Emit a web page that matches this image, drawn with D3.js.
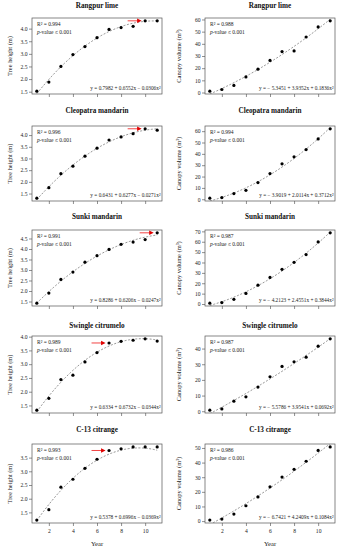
<!DOCTYPE html>
<html><head><meta charset="utf-8">
<script src="https://cdn.jsdelivr.net/npm/d3@7/dist/d3.min.js"></script>
<style>
html,body{margin:0;padding:0;background:#fff;}
svg{display:block;font-family:"Liberation Serif","Times New Roman",serif;}
</style></head><body>
<svg id="chart" width="341" height="550"></svg>
<script>
// ---------- data ----------
const years = [1, 2, 3, 4, 5, 6, 7, 8, 9, 10, 11];
const cultivars = ["Rangpur lime", "Cleopatra mandarin", "Sunki mandarin", "Swingle citrumelo", "C-13 citrange"];

const heightRangpur   = [1.52, 1.88, 2.50, 2.97, 3.29, 3.64, 3.97, 4.04, 4.09, 4.31, 4.31];
const heightCleopatra = [1.30, 1.75, 2.35, 2.67, 3.10, 3.44, 3.79, 3.92, 4.06, 4.27, 4.21];
const heightSunki     = [1.42, 1.90, 2.55, 2.90, 3.37, 3.68, 3.98, 4.22, 4.33, 4.45, 4.77];
const heightSwingle   = [1.33, 1.76, 2.44, 2.60, 3.08, 3.42, 3.77, 3.83, 3.87, 3.92, 3.84];
const heightC13       = [1.22, 1.60, 2.42, 2.71, 3.11, 3.44, 3.76, 3.82, 3.89, 3.89, 3.89];

const canopyRangpur   = [1.1, 2.5, 5.8, 12.8, 19.2, 26.4, 33.6, 34.2, 45.6, 53.9, 58.9];
const canopyCleopatra = [0.9, 1.5, 5.0, 7.9, 14.7, 22.6, 31.2, 37.4, 43.8, 53.2, 62.1];
const canopySunki     = [0.8, 1.4, 4.5, 10.2, 18.2, 25.6, 33.4, 40.2, 47.6, 59.8, 68.6];
const canopySwingle   = [0.7, 1.5, 6.4, 9.2, 15.4, 22.0, 28.6, 31.6, 34.5, 41.5, 46.2];
const canopyC13       = [0.7, 1.4, 4.8, 10.5, 16.5, 23.4, 30.1, 35.4, 40.9, 48.3, 50.7];

const heightR2 = ["0.994", "0.996", "0.991", "0.989", "0.993"];
const canopyR2 = ["0.988", "0.994", "0.987", "0.987", "0.986"];
const heightCoef = [[0.7982, 0.6552, -0.0306], [0.6431, 0.6277, -0.0271], [0.8286, 0.6206, -0.0247], [0.6334, 0.6732, -0.0344], [0.5378, 0.6996, -0.0369]];
const canopyCoef = [[-5.3451, 3.9352, 0.1836], [-3.9019, 2.0114, 0.3712], [-4.2123, 2.4551, 0.3844], [-5.5786, 3.9541, 0.0692], [-6.7421, 4.2409, 0.1084]];

const heightTicks = [[1.5, 2.0, 2.5, 3.0, 3.5, 4.0], [1.5, 2.0, 2.5, 3.0, 3.5, 4.0], [1.5, 2.0, 2.5, 3.0, 3.5, 4.0, 4.5], [1.5, 2.0, 2.5, 3.0, 3.5, 4.0], [1.5, 2.0, 2.5, 3.0, 3.5]];
const canopyTicks = [[0, 10, 20, 30, 40, 50, 60], [0, 10, 20, 30, 40, 50, 60], [0, 10, 20, 30, 40, 50, 60, 70], [0, 10, 20, 30, 40], [0, 10, 20, 30, 40, 50]];
const xTicks = [2, 4, 6, 8, 10];
const arrowYears = [10, 10, 11, 7, 7];

const heightSeries = [heightRangpur, heightCleopatra, heightSunki, heightSwingle, heightC13];
const canopySeries = [canopyRangpur, canopyCleopatra, canopySunki, canopySwingle, canopyC13];

// ---------- layout ----------
const svg = d3.select("#chart");
const rowBox = [[18, 94], [126, 201], [230, 306], [336, 413], [444, 523]];
const titleY = [8, 113, 219, 328, 432];
const cols = [{x0: 32, x1: 162, titleX: 12}, {x0: 205, x1: 335, titleX: 181}];

function fmtEq(c) {
  const a = c[0] < 0 ? "\u2212 " + Math.abs(c[0]).toFixed(4) : c[0].toFixed(4);
  const b = (c[1] < 0 ? " \u2212 " : " + ") + Math.abs(c[1]).toFixed(4) + "x";
  const q = (c[2] < 0 ? " \u2212 " : " + ") + Math.abs(c[2]).toFixed(4) + "x\u00B2";
  return "y = " + a + b + q;
}

let clipId = 0;
function panel(row, colIdx, values, coef, r2, ticks, yTitle, fmt, arrowYear) {
  const col = cols[colIdx];
  const [y0, y1] = rowBox[row];
  const x = d3.scaleLinear().domain([0.6, 11.4]).range([col.x0, col.x1]);
  const ext = d3.extent(values);
  const pad = (ext[1] - ext[0]) * 0.04;
  const y = d3.scaleLinear().domain([ext[0] - pad, ext[1] + pad]).range([y1, y0]);
  const g = svg.append("g");

  // title
  g.append("text").attr("x", (col.x0 + col.x1) / 2).attr("y", titleY[row])
    .attr("text-anchor", "middle").attr("font-weight", "bold").attr("font-size", 7.2)
    .attr("fill", "#111").text(cultivars[row]);

  // axes
  const ya = d3.axisLeft(y).tickValues(ticks).tickSize(3).tickPadding(1.5).tickFormat(fmt);
  const yg = g.append("g").attr("transform", `translate(${col.x0},0)`).call(ya);
  const xa = d3.axisBottom(x).tickValues(xTicks).tickSize(3).tickPadding(3)
    .tickFormat(row === 4 ? d3.format("d") : () => "");
  const xg = g.append("g").attr("transform", `translate(0,${y1})`).call(xa);
  [yg, xg].forEach(a => {
    a.select(".domain").remove();
    a.selectAll(".tick line").attr("stroke", "#444").attr("stroke-width", 0.6);
    a.selectAll(".tick text").attr("font-family", "Liberation Serif, serif").attr("font-size", 5.6).attr("fill", "#222");
  });

  // box
  g.append("rect").attr("x", col.x0).attr("y", y0).attr("width", col.x1 - col.x0).attr("height", y1 - y0)
    .attr("fill", "none").attr("stroke", "#555").attr("stroke-width", 0.7);

  // y title
  g.append("text").attr("transform", `translate(${col.titleX},${(y0 + y1) / 2}) rotate(-90)`)
    .attr("text-anchor", "middle").attr("font-size", 6.4).attr("fill", "#222").text(yTitle);

  // fitted curve (from displayed equation)
  const id = "clip" + (clipId++);
  g.append("clipPath").attr("id", id).append("rect")
    .attr("x", col.x0).attr("y", y0).attr("width", col.x1 - col.x0).attr("height", y1 - y0);
  const fit = d3.range(1, 11.001, 0.1).map(t => [t, coef[0] + coef[1] * t + coef[2] * t * t]);
  g.append("path").datum(fit).attr("clip-path", `url(#${id})`)
    .attr("d", d3.line().x(d => x(d[0])).y(d => y(d[1])))
    .attr("fill", "none").attr("stroke", "#666").attr("stroke-width", 0.7).attr("stroke-dasharray", "2,1.6");

  // points
  g.selectAll("circle.pt").data(values).join("circle").attr("class", "pt")
    .attr("cx", (d, i) => x(years[i])).attr("cy", d => y(d)).attr("r", 1.6).attr("fill", "#000");

  // annotations
  const t1 = g.append("text").attr("x", col.x0 + 5).attr("y", y0 + 8).attr("font-size", 5.5).attr("fill", "#222");
  t1.text("R\u00B2 = " + r2);
  const t2 = g.append("text").attr("x", col.x0 + 5).attr("y", y0 + 15.5).attr("font-size", 5.5).attr("fill", "#222");
  t2.append("tspan").attr("font-style", "italic").text("p");
  t2.append("tspan").text("-value \u2264 0.001");
  g.append("text").attr("x", col.x1 - 1.5).attr("y", y1 - 4).attr("text-anchor", "end")
    .attr("font-size", 5.3).attr("fill", "#222").text(fmtEq(coef));

  // red arrow
  if (arrowYear) {
    const i = years.indexOf(arrowYear);
    const tx = x(years[i]) - 3.5, ty = y(values[i]);
    g.append("line").attr("x1", tx - 14).attr("x2", tx - 3).attr("y1", ty).attr("y2", ty)
      .attr("stroke", "#f03030").attr("stroke-width", 0.9);
    g.append("path").attr("d", `M${tx},${ty}L${tx - 4.5},${ty - 2.2}L${tx - 4.5},${ty + 2.2}Z`).attr("fill", "#e00000");
  }
}

for (let r = 0; r < 5; r++) {
  panel(r, 0, heightSeries[r], heightCoef[r], heightR2[r], heightTicks[r], "Tree height (m)", d3.format(".1f"), arrowYears[r]);
  panel(r, 1, canopySeries[r], canopyCoef[r], canopyR2[r], canopyTicks[r], "Canopy volume (m\u00B3)", d3.format("d"), null);
}

// Year labels
cols.forEach(c => {
  svg.append("text").attr("x", (c.x0 + c.x1) / 2).attr("y", 546).attr("text-anchor", "middle")
    .attr("font-size", 6.6).attr("fill", "#222").text("Year");
});
</script>
</body></html>
